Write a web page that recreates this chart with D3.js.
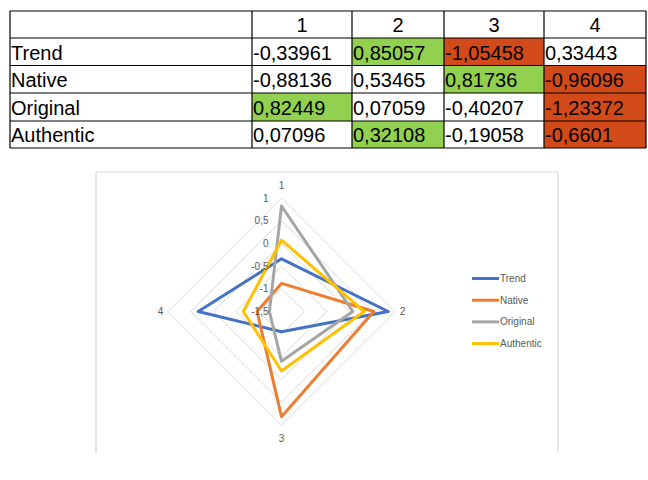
<!DOCTYPE html>
<html>
<head>
<meta charset="utf-8">
<script src="https://cdn.jsdelivr.net/npm/d3@7"></script>
<style>
  html, body { margin: 0; padding: 0; background: #ffffff; }
  svg { display: block; }
</style>
</head>
<body>
<svg id="chart" width="648" height="480"></svg>
<script>
// ---- data ----
const axes = ["1", "2", "3", "4"];
const seriesNames = ["Trend", "Native", "Original", "Authentic"];
const trend = [-0.33961, 0.85057, -1.05458, 0.33443];
const native = [-0.88136, 0.53465, 0.81736, -0.96096];
const original = [0.82449, 0.07059, -0.40207, -1.23372];
const authentic = [0.07096, 0.32108, -0.19058, -0.6601];
const ringTicks = [-1.5, -1, -0.5, 0, 0.5, 1];
const seriesValues = [trend, native, original, authentic];
const seriesColors = ["#4472C4", "#ED7D31", "#A5A5A5", "#FFC000"];

const svg = d3.select("#chart");

// ---- table (spreadsheet range) ----
const colX = [10, 252, 352, 444, 544, 646];
const rowY = [11, 38, 65.5, 93, 121, 148];
const tbl = svg.append("g");
const fmt = v => String(v).replace(".", ",");

seriesValues.forEach((vals, r) => {
  const mx = d3.max(vals), mn = d3.min(vals);
  vals.forEach((v, c) => {
    let fill = null;
    if (v === mx) fill = "#92D050";
    if (v === mn) fill = "#D34A1A";
    if (fill) tbl.append("rect")
      .attr("x", colX[c + 1]).attr("y", rowY[r + 1])
      .attr("width", colX[c + 2] - colX[c + 1]).attr("height", rowY[r + 2] - rowY[r + 1])
      .attr("fill", fill);
    tbl.append("text")
      .attr("x", colX[c + 1] + 1).attr("y", rowY[r + 2] - 6)
      .attr("font-family", "Liberation Sans, Arial, sans-serif")
      .attr("font-size", 20).attr("fill", "#000")
      .text(fmt(v));
  });
  tbl.append("text")
    .attr("x", colX[0] + 1).attr("y", rowY[r + 2] - 6)
    .attr("font-family", "Liberation Sans, Arial, sans-serif")
    .attr("font-size", 20).attr("fill", "#000")
    .text(seriesNames[r]);
});
axes.forEach((a, c) => {
  tbl.append("text")
    .attr("x", (colX[c + 1] + colX[c + 2]) / 2).attr("y", rowY[1] - 6)
    .attr("text-anchor", "middle")
    .attr("font-family", "Liberation Sans, Arial, sans-serif")
    .attr("font-size", 20).attr("fill", "#000")
    .text(a);
});
rowY.forEach(y => tbl.append("line").attr("x1", colX[0]).attr("x2", colX[5]).attr("y1", y).attr("y2", y)
  .attr("stroke", "#000").attr("stroke-width", 1.2));
colX.forEach(x => tbl.append("line").attr("x1", x).attr("x2", x).attr("y1", rowY[0]).attr("y2", rowY[5])
  .attr("stroke", "#000").attr("stroke-width", 1.2));

// ---- chart frame ----
svg.append("path")
  .attr("d", "M96,453 L96,172 L558,172 L558,453")
  .attr("fill", "none").attr("stroke", "#D9D9D9").attr("stroke-width", 1.2);

// ---- radar ----
const cx = 281.5, cy = 311.5, R = 113.5;
const r = d3.scaleLinear().domain([-1.5, 1]).range([0, R]);
const angle = d3.scalePoint().domain(axes).range([0, 2 * Math.PI * 3 / 4]);
const pt = (a, v) => {
  const t = angle(a);
  return [cx + r(v) * Math.sin(t), cy - r(v) * Math.cos(t)];
};
const g = svg.append("g");

ringTicks.slice(1).forEach(v => {
  g.append("path")
    .attr("d", d3.line()(axes.map(a => pt(a, v))) + "Z")
    .attr("fill", "none").attr("stroke", "#D9D9D9").attr("stroke-width", 1);
});

const lineGen = d3.line();
seriesValues.forEach((vals, i) => {
  g.append("path")
    .attr("d", lineGen(axes.map((a, k) => pt(a, vals[k]))) + "Z")
    .attr("fill", "none").attr("stroke", seriesColors[i])
    .attr("stroke-width", 3).attr("stroke-linejoin", "round");
});

ringTicks.forEach(v => {
  g.append("text")
    .attr("x", cx - 13).attr("y", cy - r(v))
    .attr("dy", "0.35em").attr("text-anchor", "end")
    .attr("font-family", "Liberation Sans, Arial, sans-serif")
    .attr("font-size", 10).attr("fill", "#595959")
    .text(fmt(v));
});

axes.forEach(a => {
  const t = angle(a);
  const rx = R + 7.5, ry = R + 13;
  g.append("text")
    .attr("x", cx + rx * Math.sin(t)).attr("y", cy - ry * Math.cos(t))
    .attr("dy", "0.35em").attr("text-anchor", "middle")
    .attr("font-family", "Liberation Sans, Arial, sans-serif")
    .attr("font-size", 10).attr("fill", "#595959")
    .text(a);
});

// ---- legend ----
const leg = svg.append("g");
seriesNames.forEach((n, i) => {
  const y = 278.5 + i * 21.7;
  leg.append("line").attr("x1", 472).attr("x2", 499).attr("y1", y).attr("y2", y)
    .attr("stroke", seriesColors[i]).attr("stroke-width", 3);
  leg.append("text").attr("x", 500).attr("y", y).attr("dy", "0.35em")
    .attr("font-family", "Liberation Sans, Arial, sans-serif")
    .attr("font-size", 10).attr("fill", "#595959")
    .text(n);
});
</script>
</body>
</html>
